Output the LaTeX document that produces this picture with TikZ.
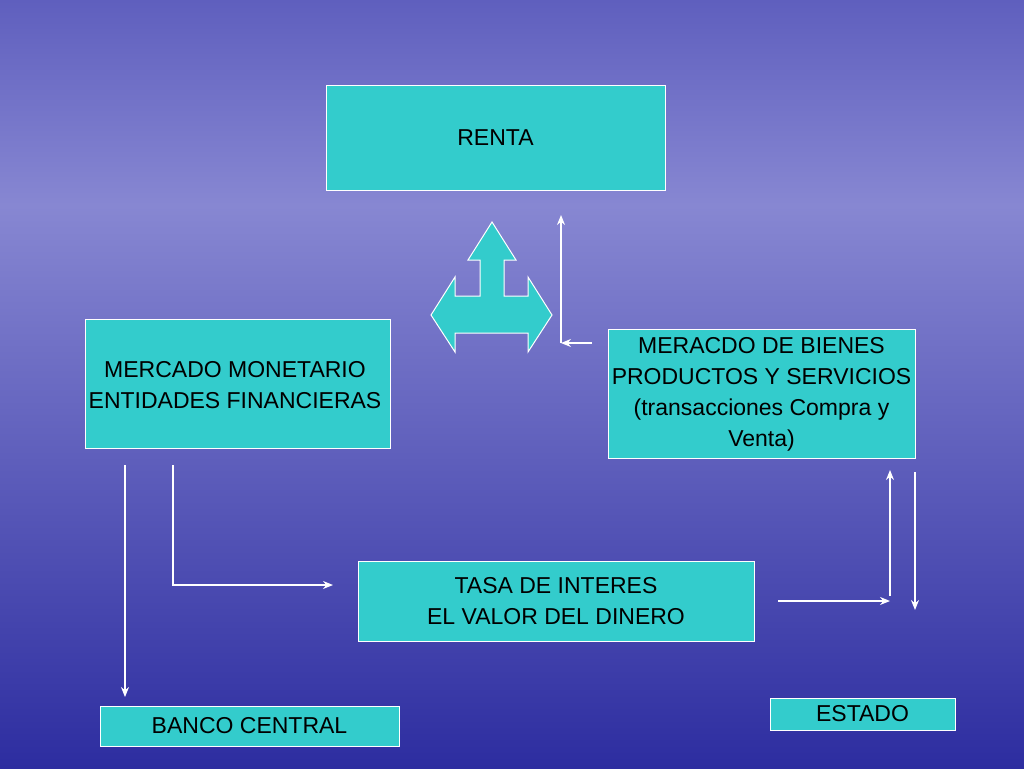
\documentclass[tikz,border=0pt]{standalone}
\usepackage{fontspec}
\setmainfont{Liberation Sans}
\usetikzlibrary{arrows.meta}
\definecolor{caja}{RGB}{51,204,204}
\definecolor{cielo}{RGB}{135,135,210}
\definecolor{arriba}{RGB}{95,95,190}
\definecolor{mar}{RGB}{45,45,160}
\tikzset{caja/.style={draw=white, fill=caja, text=black, font=\fontsize{23}{31}\selectfont, align=center, inner sep=0pt},
  flecha/.style={-{Stealth[length=10pt, width=8pt]}, draw=white, line width=1.3pt}}
\begin{document}
\begin{tikzpicture}[x=1pt, y=-1pt]
  \useasboundingbox (0,0) rectangle (1024,768);
  % --- fondo ---
  \shade[top color=arriba, bottom color=cielo] (0,0) rectangle (1024,205);
  \shade[top color=cielo, bottom color=mar] (0,205) rectangle (1024,768);

  % --- cajas ---
  \node[caja, minimum width=339pt, minimum height=105pt] (renta) at (495.5,137.5) {RENTA};
  \node[caja, minimum width=305pt, minimum height=129pt] (monet) at (237.5,383.5) {};
  \node[font=\fontsize{23}{31}\selectfont, align=center] (monettxt) at (235,385) {MERCADO MONETARIO\\ENTIDADES FINANCIERAS};
  \node[caja, minimum width=307pt, minimum height=129pt] (bienes) at (761.5,394) {MERACDO DE BIENES\\ PRODUCTOS Y SERVICIOS\\(transacciones Compra y\\Venta)};
  \node[caja, minimum width=396pt, minimum height=80pt] (tasa) at (556,601) {TASA DE INTERES\\EL VALOR DEL DINERO};
  \node[caja, minimum width=299pt, minimum height=40pt] (banco) at (249.5,726) {BANCO CENTRAL};
  \node[caja, minimum width=185pt, minimum height=32pt] (estado) at (862.5,714) {ESTADO};

  % --- flecha triple ---
  \draw[draw=white, fill=caja, line width=1pt] (492,222) -- (516,260) -- (504,260) -- (504,296) -- (528,296)
    -- (528,277) -- (552,315) -- (528,352) -- (528,333) -- (455,333) -- (455,352)
    -- (431,315) -- (455,277) -- (455,296) -- (480,296) -- (480,260) -- (468,260) -- cycle;

  % --- conectores ---
  \coordinate (b1) at (592,343);
  \coordinate (b2) at (561,343);
  \coordinate (b3) at (561,215);
  \draw[flecha] (b1) -- (b2);
  \draw[flecha] (b2) -- (b3);

  \coordinate (m1) at (125,465);
  \coordinate (m2) at (125,697);
  \draw[flecha] (m1) -- (m2);
  \coordinate (m3) at (173,465);
  \coordinate (m4) at (333,585);
  \draw[flecha] (m3) |- (m4);

  \coordinate (t1) at (778,601);
  \coordinate (t2) at (890,601);
  \draw[flecha] (t1) -- (t2);
  \coordinate (e1) at (890,596);
  \coordinate (e2) at (890,470);
  \draw[flecha] (e1) -- (e2);
  \coordinate (e3) at (915,472);
  \coordinate (e4) at (915,610);
  \draw[flecha] (e3) -- (e4);
\end{tikzpicture}
\end{document}
